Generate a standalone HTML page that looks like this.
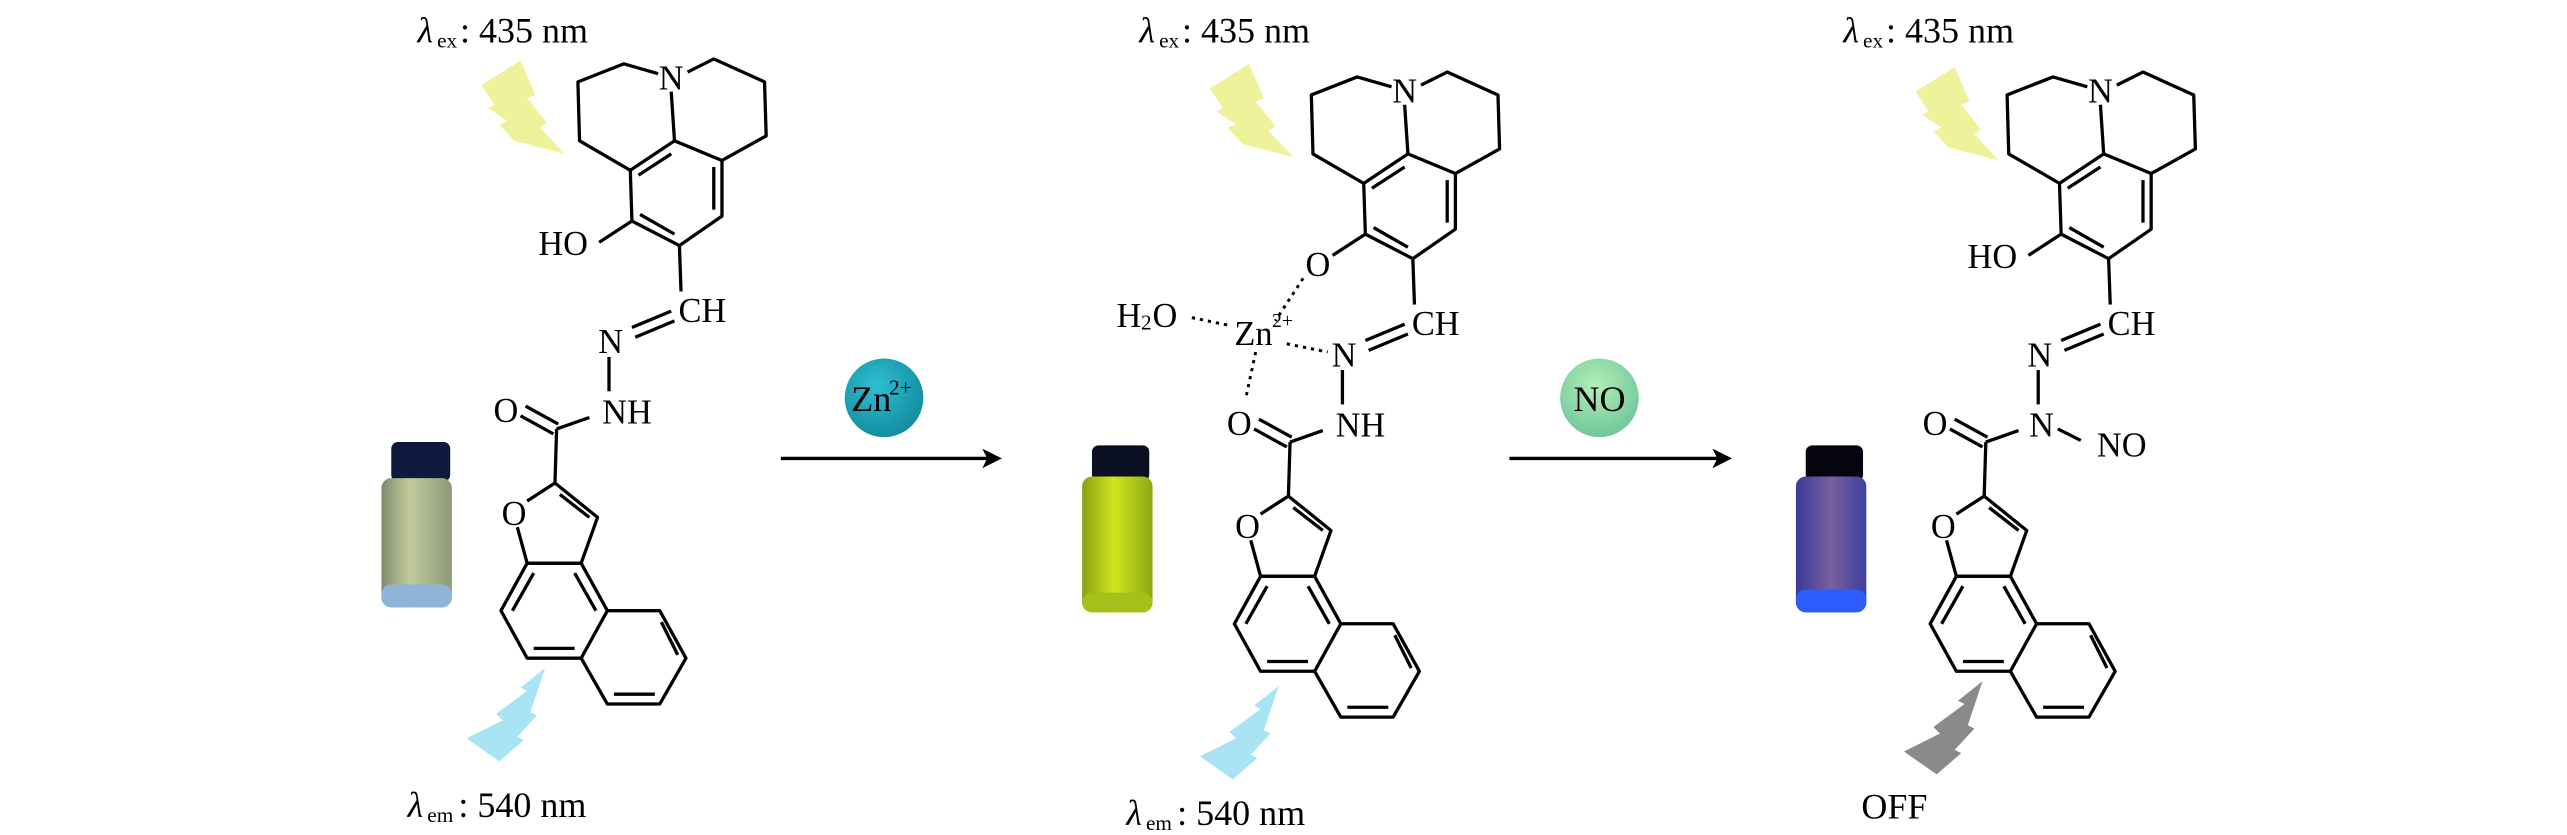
<!DOCTYPE html>
<html><head><meta charset="utf-8"><style>
html,body{margin:0;padding:0;background:#fff;}
svg{display:block;}
svg text{font-family:"Liberation Serif","DejaVu Serif",serif;fill:#000;}
</style></head><body>
<svg width="2567" height="835" viewBox="0 0 1568 510" preserveAspectRatio="none" xmlns="http://www.w3.org/2000/svg" font-family="Liberation Serif, DejaVu Serif, serif">
<defs>
<linearGradient id="v1" x1="0" x2="1" y1="0" y2="0"><stop offset="0" stop-color="#7f8a6c"/><stop offset="0.4" stop-color="#c3cc9e"/><stop offset="1" stop-color="#8c9878"/></linearGradient>
<linearGradient id="v2" x1="0" x2="1" y1="0" y2="0"><stop offset="0" stop-color="#8aa010"/><stop offset="0.45" stop-color="#cfe51e"/><stop offset="1" stop-color="#90a812"/></linearGradient>
<linearGradient id="v3" x1="0" x2="1" y1="0" y2="0"><stop offset="0" stop-color="#3a3a98"/><stop offset="0.5" stop-color="#7a5fa0"/><stop offset="1" stop-color="#3c3f9c"/></linearGradient>
<radialGradient id="zn" cx="0.4" cy="0.35" r="0.7"><stop offset="0" stop-color="#2cc0d2"/><stop offset="1" stop-color="#138a9c"/></radialGradient>
<radialGradient id="no" cx="0.45" cy="0.35" r="0.7"><stop offset="0" stop-color="#b4eeb4"/><stop offset="1" stop-color="#6cc49a"/></radialGradient>
<path id="ybolt" d="M294,52 L318,37 L327,58 L322,60 L334,75 L330,78 L345,94 L314,86 L305,76 L310,74 L298,66 L302,64 Z" fill="#eef29a"/>
<path id="dbolt" d="M333,408 L318,420 L322,422 L303,436 L307,440 L285,451 L305,465 L320,452 L316,450 L328,437 L324,435 Z"/>
<g id="skel" fill="none" stroke="#000" stroke-width="2" stroke-linejoin="round">
<path d="M402,45 L381,39 L353,50 L354,86 L385,104"/>
<path d="M420,44 L436,36 L467,50 L468,83 L441,98"/>
<path d="M410,56 L412,86"/>
<path d="M412,86 L441,98 L441,132 L415,150 L386,135 L385,104 Z"/>
<path d="M390,107 L410,94 M436,102 L436,128 M391,131 L412,143"/>
<path d="M366,148 L386,135"/>
<path d="M415,150 L416,178"/>
<path d="M410,190 L386,200 M412,196 L388,206"/>
<path d="M372,218 L372,239"/>
<path d="M340,262 L360,255"/>
<path d="M321,248 L341,259 M318,254 L338,265"/>
<path d="M340,262 L339,295"/>
<path d="M339,295 L365,316 L355,344 L322,344 L316,322 M322,306 L339,295"/>
<path d="M342,302 L360,316"/>
<path d="M322,344 L355,344 L371,373 L355,402 L322,402 L306,373 Z"/>
<path d="M326,350 L313,373 M351,350 L364,373 M326,396 L351,396"/>
<path d="M371,373 L403,373 L419,402 L403,430 L371,430 L355,402"/>
<path d="M404,380 L414,400 M375,424 L400,424"/>
</g>
</defs>

<!-- Molecule 1 -->
<text x="255" y="26" font-size="22" font-style="italic">λ</text><text x="267" y="29" font-size="13">ex</text><text x="281" y="26" font-size="22">: 435 nm</text>
<use href="#ybolt"/>
<use href="#skel"/>
<g font-size="21" text-anchor="middle" dominant-baseline="central">
<text x="410" y="48">N</text>
<text x="344" y="149">HO</text>
<text x="429" y="190">CH</text>
<text x="373" y="209">N</text>
<text x="383" y="252">NH</text>
<text x="309" y="251">O</text>
<text x="314" y="314">O</text>
</g>
<use href="#dbolt" fill="#a8e4f4"/>
<text x="249" y="499" font-size="22" font-style="italic">λ</text><text x="261" y="502" font-size="13">em</text><text x="280" y="499" font-size="22">: 540 nm</text>
<rect x="239" y="270" width="36" height="24" rx="4" fill="#0d1a3e"/>
<rect x="233" y="292" width="43" height="79" rx="6" fill="url(#v1)"/>
<rect x="233" y="357" width="43" height="14" rx="6" fill="#8fb4d8"/>

<!-- Arrow 1 -->
<circle cx="540" cy="243" r="24" fill="url(#zn)"/>
<text x="520" y="251" font-size="22">Zn</text><text x="543" y="241" font-size="13">2+</text>
<line x1="477" y1="280" x2="606" y2="280" stroke="#000" stroke-width="2"/>
<path d="M612,280 L600,274 L603,280 L600,286 Z" fill="#000"/>

<!-- Molecule 2 -->
<text x="696" y="26" font-size="22" font-style="italic">λ</text><text x="708" y="29" font-size="13">ex</text><text x="722" y="26" font-size="22">: 435 nm</text>
<use href="#ybolt" transform="translate(445,2)"/>
<g transform="translate(448,8)">
<use href="#skel"/>
<g font-size="21" text-anchor="middle" dominant-baseline="central">
<text x="410" y="48">N</text>
<text x="429" y="190">CH</text>
<text x="373" y="209">N</text>
<text x="383" y="252">NH</text>
<text x="309" y="251">O</text>
<text x="314" y="314">O</text>
<text x="357" y="154">O</text>
</g>
</g>
<g font-size="21" dominant-baseline="central">
<text x="682" y="193">H</text><text x="697" y="197" font-size="13">2</text><text x="704" y="193">O</text>
<text x="754" y="204">Zn</text><text x="777" y="196" font-size="12">2+</text>
</g>
<g stroke="#000" stroke-width="1.8" stroke-dasharray="2,3" fill="none">
<path d="M796,170 L779,196"/>
<path d="M728,194 L752,199"/>
<path d="M786,210 L811,215"/>
<path d="M767,215 L761,243"/>
</g>
<use href="#dbolt" fill="#a8e4f4" transform="translate(448,11)"/>
<text x="688" y="504" font-size="22" font-style="italic">λ</text><text x="700" y="507" font-size="13">em</text><text x="719" y="504" font-size="22">: 540 nm</text>
<rect x="667" y="272" width="35" height="22" rx="4" fill="#0a0f22"/>
<rect x="661" y="291" width="43" height="83" rx="6" fill="url(#v2)"/>
<rect x="661" y="362" width="43" height="12" rx="6" fill="#a6c01a"/>

<!-- Arrow 2 -->
<circle cx="977" cy="243" r="24" fill="url(#no)"/>
<text x="977" y="251" font-size="22" text-anchor="middle">NO</text>
<line x1="922" y1="280" x2="1052" y2="280" stroke="#000" stroke-width="2"/>
<path d="M1058,280 L1046,274 L1049,280 L1046,286 Z" fill="#000"/>

<!-- Molecule 3 -->
<text x="1126" y="26" font-size="22" font-style="italic">λ</text><text x="1138" y="29" font-size="13">ex</text><text x="1152" y="26" font-size="22">: 435 nm</text>
<use href="#ybolt" transform="translate(876,4)"/>
<g transform="translate(873,8)">
<use href="#skel"/>
<g font-size="21" text-anchor="middle" dominant-baseline="central">
<text x="410" y="48">N</text>
<text x="344" y="149">HO</text>
<text x="429" y="190">CH</text>
<text x="373" y="209">N</text>
<text x="374" y="252">N</text>
<text x="309" y="251">O</text>
<text x="314" y="314">O</text>
</g>
</g>
<path d="M1257,262 L1271,269" stroke="#000" stroke-width="2"/>
<text x="1296" y="272" font-size="21" text-anchor="middle" dominant-baseline="central">NO</text>
<use href="#dbolt" fill="#8a8a8a" transform="translate(878,8)"/>
<text x="1137" y="500" font-size="22">OFF</text>
<rect x="1103" y="272" width="35" height="22" rx="4" fill="#050510"/>
<rect x="1097" y="291" width="43" height="83" rx="6" fill="url(#v3)"/>
<rect x="1097" y="360" width="43" height="14" rx="6" fill="#2e5cff"/>
</svg>
</body></html>
